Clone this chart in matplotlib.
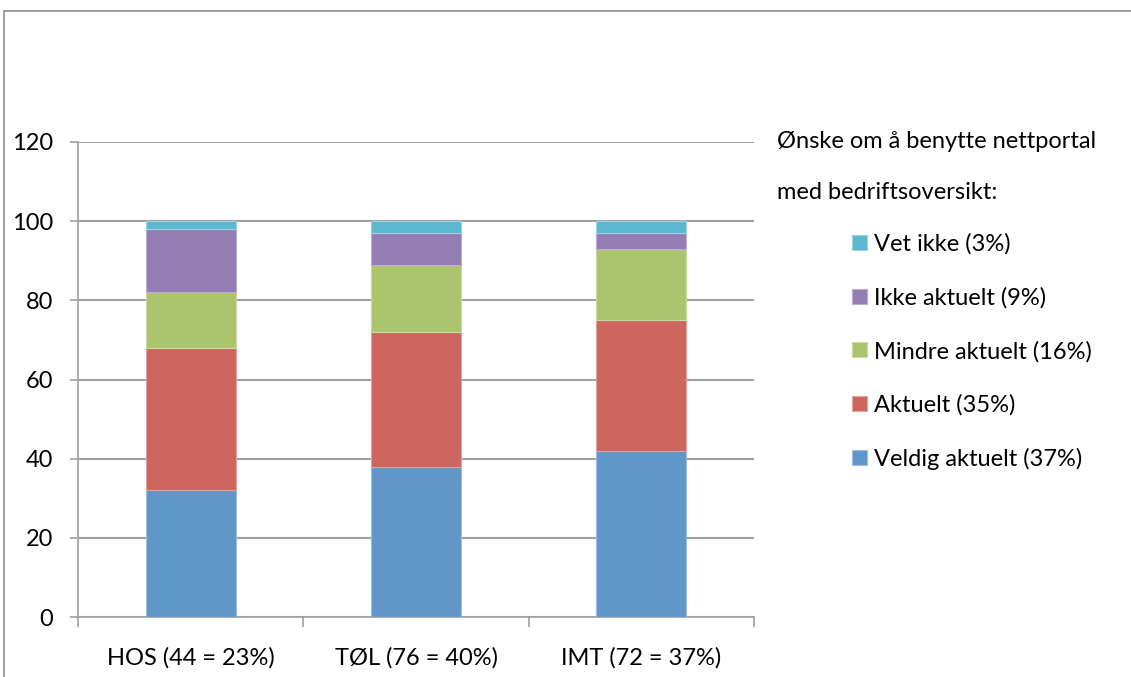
import matplotlib.pyplot as plt
import matplotlib.patches as mpatches
import numpy as np

plt.rcParams['font.family'] = ['Lato', 'DejaVu Sans']

# data
grupper = ['HOS (44 = 23%)', 'TØL (76 = 40%)', 'IMT (72 = 37%)']
serier = ['Veldig aktuelt (37%)', 'Aktuelt (35%)', 'Mindre aktuelt (16%)',
          'Ikke aktuelt (9%)', 'Vet ikke (3%)']
veldig_aktuelt = [32, 38, 42]
aktuelt = [36, 34, 33]
mindre_aktuelt = [14, 17, 18]
ikke_aktuelt = [16, 8, 4]
vet_ikke = [2, 3, 3]
verdier = [veldig_aktuelt, aktuelt, mindre_aktuelt, ikke_aktuelt, vet_ikke]

farger = ['#6096C8', '#CC665F', '#ABC46D', '#947DB3', '#5BB8D0']
kanter = ['#9DBDDD', '#E0A09B', '#CADB9F', '#BBADD0', '#9AD3E2']
fs = 17

fig = plt.figure(figsize=(11.31, 6.77), dpi=100)
W, H = 1131, 677
ax = fig.add_axes([78 / W, 1 - 617 / H, (754 - 78) / W, (617 - 142) / H])

# ramme rundt hele diagrammet
fig.patches.append(mpatches.Rectangle((3.5 / W, -0.1), 1.2, 1 - 11 / H + 0.1,
                                      transform=fig.transFigure, fill=False,
                                      edgecolor='#8C8C8C', linewidth=1.2))

x = np.arange(len(grupper))
bunn = np.zeros(len(grupper))
handles = []
for navn, v, f, k in zip(serier, verdier, farger, kanter):
    b = ax.bar(x, v, width=0.4, bottom=bunn, color=f, edgecolor=k,
               linewidth=0.8, label=navn, zorder=3)
    handles.append(b)
    bunn += np.array(v)

ax.set_xlim(-0.5, 2.5)
ax.set_ylim(0, 120)
ax.set_yticks(range(0, 121, 20))
ax.yaxis.grid(True, color='#A0A0A0', linewidth=1.5, zorder=0)
ax.set_axisbelow(True)

ax.set_xticks(x)
ax.set_xticklabels(grupper, fontsize=fs)
ax.set_xticks([-0.5, 0.5, 1.5, 2.5], minor=True)
ax.tick_params(axis='x', which='major', length=0, pad=22)
ax.tick_params(axis='x', which='minor', length=7, color='#A0A0A0', width=1.2)
ax.tick_params(axis='y', labelsize=fs, length=6, color='#A0A0A0', width=1.2, pad=12)

for s in ['top', 'right']:
    ax.spines[s].set_visible(False)
for s in ['left', 'bottom']:
    ax.spines[s].set_color('#A0A0A0')
    ax.spines[s].set_linewidth(1.2)

fig.text(777 / W, 1 - 142 / H, 'Ønske om å benytte nettportal', fontsize=fs,
         ha='left', va='center')
fig.text(777 / W, 1 - 193 / H, 'med bedriftsoversikt:', fontsize=fs,
         ha='left', va='center')

leg = fig.legend(handles[::-1], serier[::-1], loc='upper left',
                 bbox_to_anchor=(843 / W, 1 - 224 / H), frameon=False,
                 fontsize=fs, handlelength=0.6, handleheight=0.6,
                 handletextpad=0.3, labelspacing=1.36, borderaxespad=0)

fig.savefig('out.png', dpi=100)
